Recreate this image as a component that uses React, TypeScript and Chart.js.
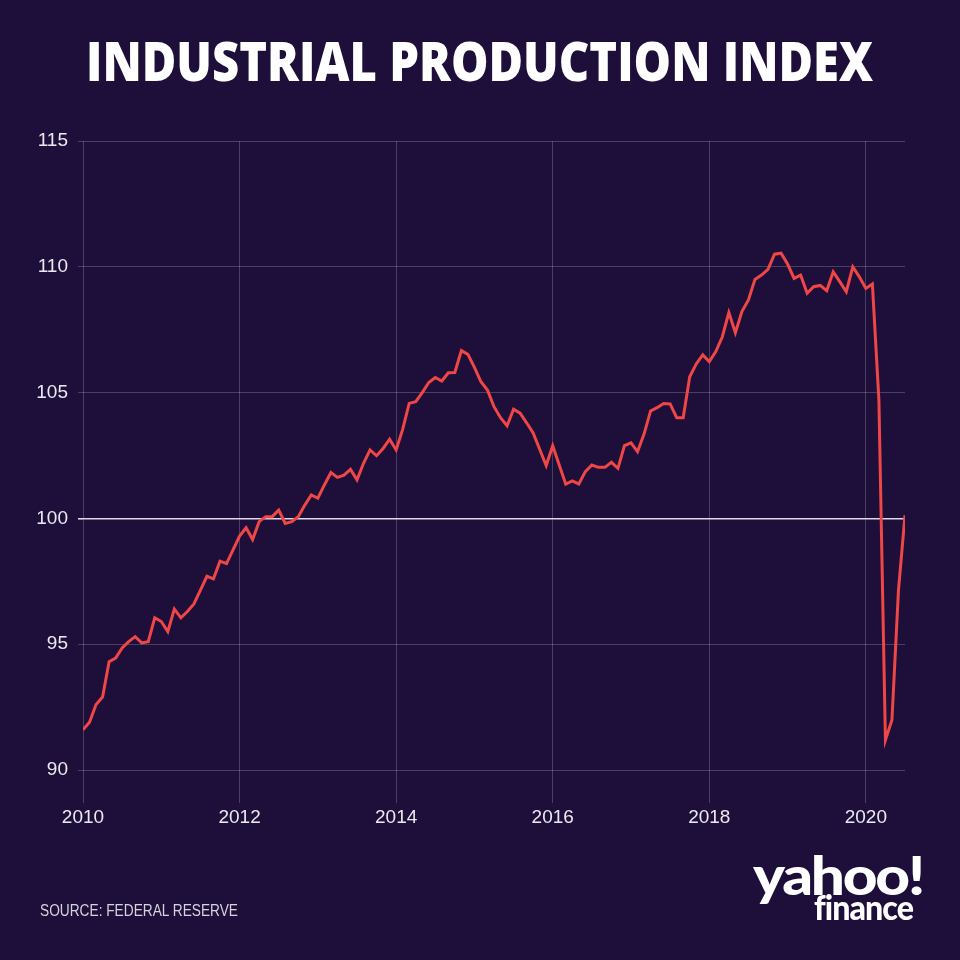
import React, { useEffect, useLayoutEffect, useRef } from "react";
import { Chart, registerables } from "chart.js";

Chart.register(...registerables);

// ---- Data (monthly index, Jan 2010 – Jul 2020) ----
const START_YEAR = 2010;
const values2010 = [91.6, 91.9, 92.6, 92.9, 94.3, 94.45, 94.85, 95.1, 95.3, 95.05, 95.1, 96.05];
const values2011 = [95.9, 95.5, 96.4, 96.05, 96.3, 96.6, 97.15, 97.7, 97.6, 98.3, 98.2, 98.75];
const values2012 = [99.3, 99.63, 99.16, 99.87, 100.07, 100.07, 100.33, 99.8, 99.87, 100.07, 100.53, 100.93];
const values2013 = [100.8, 101.33, 101.82, 101.63, 101.72, 101.95, 101.53, 102.19, 102.72, 102.49, 102.78, 103.15];
const values2014 = [102.72, 103.54, 104.57, 104.64, 105.0, 105.4, 105.6, 105.46, 105.79, 105.8, 106.67, 106.52];
const values2015 = [106.0, 105.43, 105.1, 104.44, 104.0, 103.68, 104.34, 104.18, 103.8, 103.4, 102.75, 102.1];
const values2016 = [102.89, 102.12, 101.36, 101.49, 101.37, 101.86, 102.12, 102.03, 102.03, 102.23, 101.99, 102.89];
const values2017 = [103.0, 102.65, 103.35, 104.27, 104.4, 104.57, 104.55, 104.0, 104.0, 105.63, 106.14, 106.5];
const values2018 = [106.23, 106.63, 107.22, 108.18, 107.38, 108.22, 108.68, 109.5, 109.67, 109.9, 110.5, 110.54];
const values2019 = [110.11, 109.54, 109.67, 108.95, 109.21, 109.26, 109.05, 109.8, 109.41, 109.01, 110.0, 109.6];
const values2020 = [109.14, 109.32, 104.7, 91.19, 91.99, 97.15, 100.13];

const X_TICK_YEARS = [2010, 2012, 2014, 2016, 2018, 2020];
const Y_TICKS = [90, 95, 100, 105, 110, 115];
const Y_MIN = 90;
const Y_MAX = 115;
const REFERENCE_VALUE = 100;

const TITLE = "INDUSTRIAL PRODUCTION INDEX";
const SOURCE = "SOURCE: FEDERAL RESERVE";

// ---- Styles ----
const BG = "#1d0e3a";
const LINE_COLOR = "#ef4646";
const GRID_COLOR = "rgba(255,255,255,0.2)";
const REF_COLOR = "#dcd8e6";
const TICK_COLOR = "#ebe9f0";

function FitText(props: { text: string; width: number; style: React.CSSProperties }) {
  const ref = useRef<HTMLDivElement>(null);
  useLayoutEffect(() => {
    const el = ref.current;
    if (!el) return;
    const fit = () => {
      el.style.transform = "none";
      const w = el.getBoundingClientRect().width;
      if (w > 0) el.style.transform = `scaleX(${props.width / w})`;
    };
    fit();
    if ((document as any).fonts && (document as any).fonts.ready) {
      (document as any).fonts.ready.then(fit);
    }
  }, [props.text, props.width]);
  return (
    <div
      ref={ref}
      style={{
        position: "absolute",
        whiteSpace: "nowrap",
        transformOrigin: "0 0",
        lineHeight: 1,
        ...props.style,
      }}
    >
      {props.text}
    </div>
  );
}

export default function App() {
  const canvasRef = useRef<HTMLCanvasElement>(null);

  useEffect(() => {
    document.body.style.margin = "0";
    document.body.style.background = BG;
    const canvas = canvasRef.current;
    if (!canvas) return;
    const all = [
      values2010, values2011, values2012, values2013, values2014, values2015,
      values2016, values2017, values2018, values2019, values2020,
    ].flat();
    const points = all.map((v, i) => ({ x: START_YEAR + i / 12, y: v }));
    const tickFont = { family: "'Liberation Sans', Arial, sans-serif", size: 19 };

    const chart = new Chart(canvas, {
      type: "line",
      data: {
        datasets: [
          {
            data: points,
            borderColor: LINE_COLOR,
            borderWidth: 3,
            pointRadius: 0,
            tension: 0,
            fill: false,
          },
        ],
      },
      options: {
        responsive: false,
        animation: false,
        layout: { padding: { top: 141, right: 55, left: 0, bottom: 0 } },
        plugins: { legend: { display: false }, tooltip: { enabled: false }, title: { display: false } },
        scales: {
          x: {
            type: "linear",
            min: START_YEAR,
            max: START_YEAR + (all.length - 1) / 12,
            afterBuildTicks: (s: any) => {
              s.ticks = X_TICK_YEARS.map((v) => ({ value: v }));
            },
            afterFit: (s: any) => {
              s.height = 190;
            },
            grid: { color: GRID_COLOR, lineWidth: 1, tickLength: 33, drawTicks: true },
            border: { display: false },
            ticks: {
              color: TICK_COLOR,
              font: tickFont,
              padding: 3,
              maxRotation: 0,
              autoSkip: false,
              callback: (v: any) => String(v),
            },
          },
          y: {
            type: "linear",
            min: Y_MIN,
            max: Y_MAX,
            afterBuildTicks: (s: any) => {
              s.ticks = Y_TICKS.map((v) => ({ value: v }));
            },
            afterFit: (s: any) => {
              s.width = 83;
            },
            grid: {
              color: (ctx: any) => (ctx.tick && ctx.tick.value === REFERENCE_VALUE ? REF_COLOR : GRID_COLOR),
              lineWidth: (ctx: any) => (ctx.tick && ctx.tick.value === REFERENCE_VALUE ? 1.6 : 1),
              tickLength: 5,
              drawTicks: true,
            },
            border: { display: false },
            ticks: {
              color: TICK_COLOR,
              font: tickFont,
              padding: 10,
              callback: (v: any) => String(v),
            },
          },
        },
      },
    } as any);
    return () => chart.destroy();
  }, []);

  return (
    <div style={{ position: "fixed", left: 0, top: 0, width: 960, height: 960, background: BG, overflow: "hidden" }}>
      <canvas ref={canvasRef} width={960} height={960} style={{ position: "absolute", left: 0, top: 0, width: 960, height: 960 }} />
      <FitText
        text={TITLE}
        width={787}
        style={{ left: 86, top: 33, color: "#ffffff", fontFamily: "'Open Sans', sans-serif", fontWeight: 800, fontSize: 54 }}
      />
      <FitText
        text={SOURCE}
        width={198}
        style={{ left: 40, top: 903, color: "#d6d3de", fontFamily: "'Liberation Sans', Arial, sans-serif", fontSize: 16 }}
      />
      <FitText
        text="yahoo!"
        width={170}
        style={{ left: 753, top: 848, color: "#ffffff", fontFamily: "Lato, sans-serif", fontWeight: 900, fontSize: 54, letterSpacing: -2 }}
      />
      <FitText
        text="finance"
        width={99}
        style={{ left: 814, top: 890, color: "#ffffff", fontFamily: "Lato, sans-serif", fontWeight: 900, fontSize: 34, letterSpacing: -1 }}
      />
    </div>
  );
}
